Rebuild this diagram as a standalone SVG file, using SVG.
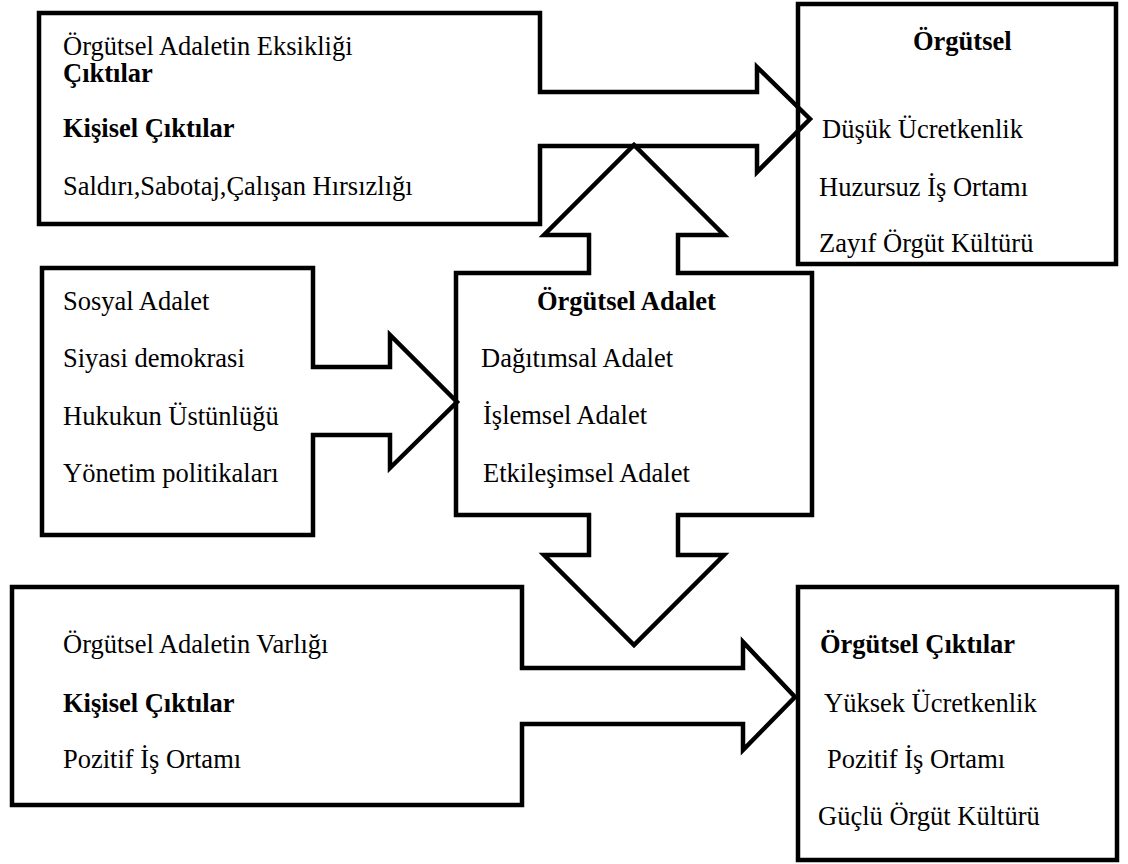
<svg xmlns="http://www.w3.org/2000/svg" width="1128" height="864" viewBox="0 0 1128 864">
<style>
.shape{fill:none;stroke:#000;stroke-width:4.5;stroke-linejoin:miter;stroke-miterlimit:10}
text{font-family:"Liberation Serif","Times New Roman",serif;font-size:26.5px;fill:#000}
.b{font-weight:bold}
</style>
<rect width="1128" height="864" fill="#fff"/>
<g id="connectors">
</g>
<g id="top-left">
<polygon class="shape" points="39,13 540,13 540,92 757,92 757,67 810,119 757,172 757,146 540,146 540,224 39,224"/>
<text x="63" y="55">Örgütsel Adaletin Eksikliği</text>
<text class="b" x="63" y="82">Çıktılar</text>
<text class="b" x="63" y="137">Kişisel Çıktılar</text>
<text x="63" y="195">Saldırı,Sabotaj,Çalışan Hırsızlığı</text>
</g>
<g id="top-right">
<rect class="shape" x="798" y="4" width="318" height="260"/>
<text class="b" x="913" y="50">Örgütsel</text>
<text x="822" y="138">Düşük Ücretkenlik</text>
<text x="819" y="196">Huzursuz İş Ortamı</text>
<text x="819" y="252">Zayıf Örgüt Kültürü</text>
</g>
<g id="mid-left">
<polygon class="shape" points="42,268 313,268 313,367 390,367 390,335 457,402 390,468 390,435 313,435 313,535 42,535"/>
<text x="63" y="310">Sosyal Adalet</text>
<text x="63" y="367">Siyasi demokrasi</text>
<text x="63" y="425">Hukukun Üstünlüğü</text>
<text x="63" y="482">Yönetim politikaları</text>
</g>
<g id="center">
<polygon class="shape" points="456,273 589,273 589,235 544,235 634,145 724,235 678,235 678,273 812,273 812,515 678,515 678,555 724,555 634,645 544,555 589,555 589,515 456,515"/>
<text class="b" x="537" y="310">Örgütsel Adalet</text>
<text x="481" y="367">Dağıtımsal Adalet</text>
<text x="483" y="424">İşlemsel Adalet</text>
<text x="483" y="482">Etkileşimsel Adalet</text>
</g>
<g id="bottom-left">
<polygon class="shape" points="12,587 522,587 522,668 743,668 743,642 795,697 743,750 743,724 522,724 522,805 12,805"/>
<text x="63" y="653">Örgütsel Adaletin Varlığı</text>
<text class="b" x="63" y="712">Kişisel Çıktılar</text>
<text x="63" y="768">Pozitif İş Ortamı</text>
</g>
<g id="bottom-right">
<rect class="shape" x="798" y="587" width="319" height="273"/>
<text class="b" x="820" y="653">Örgütsel Çıktılar</text>
<text x="824" y="712">Yüksek Ücretkenlik</text>
<text x="827" y="768">Pozitif İş Ortamı</text>
<text x="818" y="825">Güçlü Örgüt Kültürü</text>
</g>
</svg>
